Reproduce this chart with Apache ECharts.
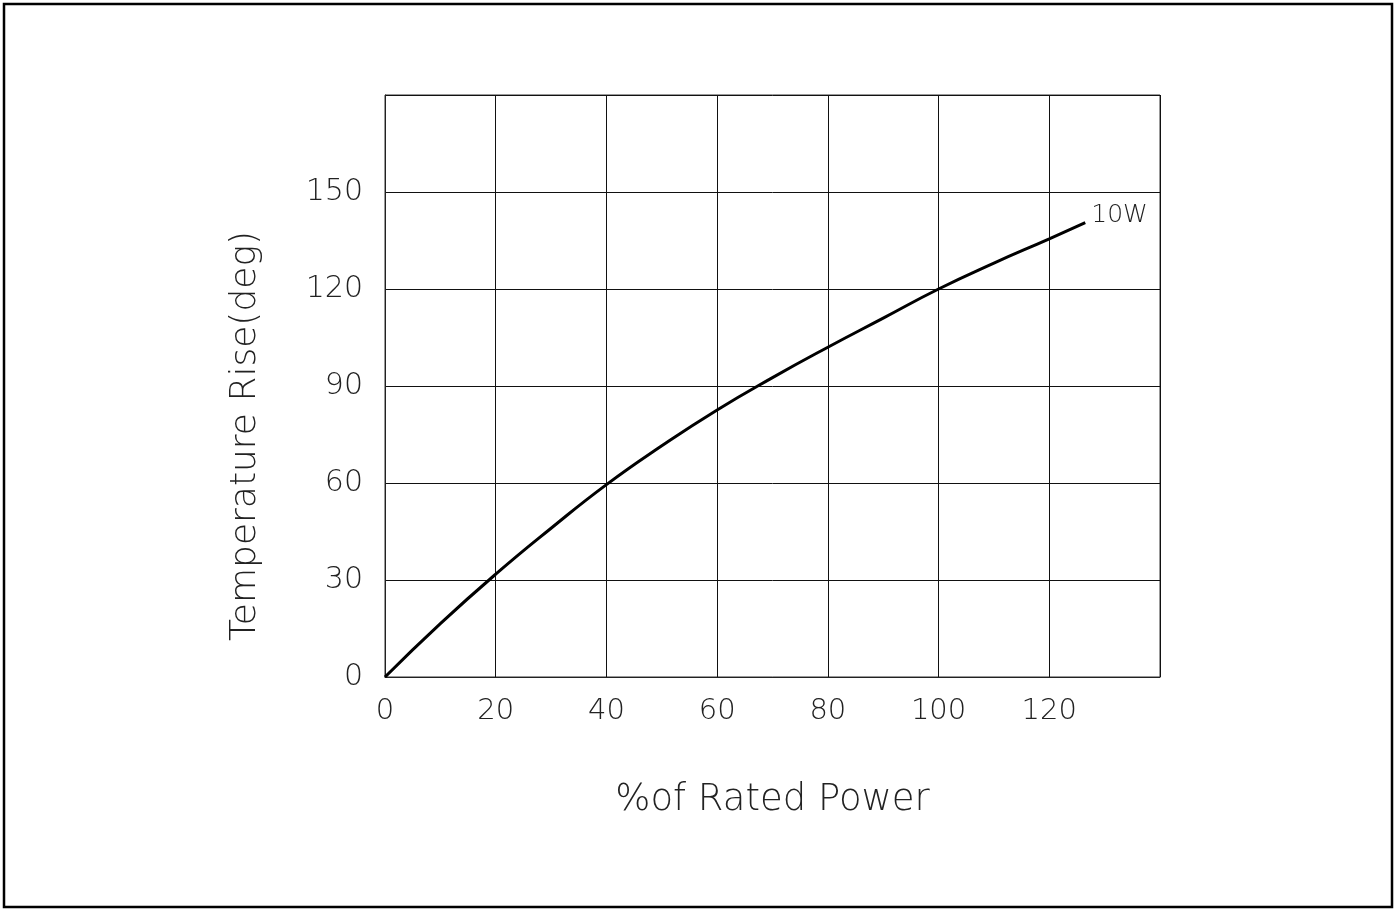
<!DOCTYPE html>
<html>
<head>
<meta charset="utf-8">
<script src="https://cdn.jsdelivr.net/npm/echarts@6/dist/echarts.min.js"></script>
<style>
html,body{margin:0;padding:0;background:#fff;}
#c{width:1397px;height:909px;}
</style>
</head>
<body>
<div id="c"></div>
<script>
const ratedPower = [0, 10, 20, 30, 40, 50, 60, 70, 80, 90, 100, 110, 120, 126.5];
const tempRise   = [0, 16.5, 31.8, 46, 59.5, 71.5, 82.6, 92.6, 102, 111, 120, 128, 135.5, 140.5];
const seriesName = '10W';
const xTitle = '%of Rated Power';
const yTitle = 'Temperature Rise(deg)';

const FONT = '"DejaVu Sans", sans-serif';
const FW = 200;
const chart = echarts.init(document.getElementById('c'), null, {renderer: 'canvas'});
const data = ratedPower.map((x, i) => [x, tempRise[i]]);

chart.setOption({
  animation: false,
  backgroundColor: '#fff',
  graphic: [{
    type: 'rect',
    shape: {x: 4, y: 4, width: 1388, height: 903},
    style: {fill: 'none', stroke: '#000', lineWidth: 2.5},
    silent: true
  }],
  grid: {left: 385, top: 95, right: 237, bottom: 232, show: true, borderColor: '#333', borderWidth: 1},
  xAxis: {
    type: 'value', min: 0, max: 140, interval: 20,
    name: xTitle, nameLocation: 'middle', nameGap: 105,
    nameTextStyle: {fontFamily: FONT, fontWeight: FW, fontSize: 37, color: '#222'},
    axisLine: {show: true, lineStyle: {color: '#222', width: 1}},
    axisTick: {show: false},
    axisLabel: {
      margin: 20, fontFamily: FONT, fontWeight: FW, fontSize: 29, color: '#222',
      formatter: v => v === 140 ? '' : String(v)
    },
    splitLine: {show: true, lineStyle: {color: '#111', width: 1}}
  },
  yAxis: {
    type: 'value', min: 0, max: 180, interval: 30,
    name: yTitle, nameLocation: 'middle', nameGap: 121, nameRotate: 90,
    nameTextStyle: {fontFamily: FONT, fontWeight: FW, fontSize: 36, color: '#222', padding: [0, 100, 0, 0]},
    axisLine: {show: true, lineStyle: {color: '#222', width: 1}},
    axisTick: {show: false},
    axisLabel: {
      margin: 22, fontFamily: FONT, fontWeight: FW, fontSize: 30, color: '#222',
      formatter: v => v === 180 ? '' : String(v)
    },
    splitLine: {show: true, lineStyle: {color: '#111', width: 1}}
  },
  series: [{
    name: seriesName,
    type: 'line',
    data: data,
    smooth: true,
    symbol: 'none',
    lineStyle: {color: '#000', width: 3},
    endLabel: {
      show: true,
      formatter: seriesName,
      offset: [-2, -7],
      fontFamily: FONT, fontWeight: FW, fontSize: 25, color: '#222'
    }
  }]
});
</script>
</body>
</html>
